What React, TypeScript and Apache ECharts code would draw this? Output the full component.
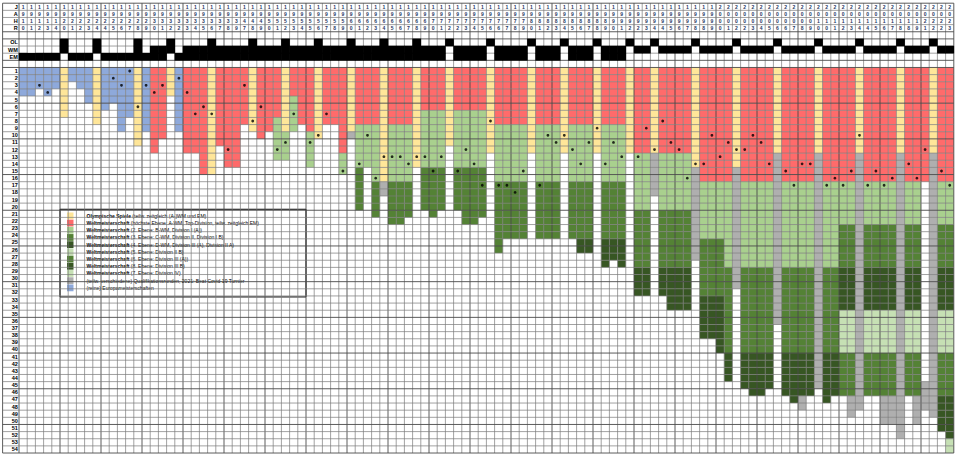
import { useEffect, useRef } from "react";
import * as echarts from "echarts";

// ---------- DATA ----------
const YEARS: number[] = [
  1910, 1911, 1912, 1913, 1914, 1920, 1921, 1922, 1923, 1924,
  1924, 1925, 1926, 1927, 1928, 1929, 1930, 1931, 1932, 1932,
  1933, 1934, 1935, 1936, 1937, 1938, 1939, 1947, 1948, 1949,
  1950, 1951, 1952, 1953, 1954, 1955, 1956, 1957, 1958, 1959,
  1960, 1961, 1962, 1963, 1964, 1965, 1966, 1967, 1968, 1969,
  1970, 1971, 1972, 1972, 1973, 1974, 1975, 1976, 1976, 1977,
  1978, 1979, 1980, 1981, 1982, 1983, 1984, 1985, 1986, 1987,
  1988, 1989, 1990, 1991, 1992, 1992, 1993, 1994, 1994, 1995,
  1996, 1997, 1998, 1998, 1999, 2000, 2001, 2002, 2002, 2003,
  2004, 2005, 2006, 2006, 2007, 2008, 2009, 2010, 2010, 2011,
  2012, 2013, 2014, 2014, 2015, 2016, 2017, 2018, 2018, 2019,
  2021, 2022, 2022, 2023,
];

// O = Olympia, W = Weltmeisterschaft, E = Europameisterschaft
const EVENTS: string[] = [
  "E", "E", "E", "E", "E", "OW", "E", "E", "E", "OW",
  "E", "E", "E", "E", "OWE", "E", "WE", "WE", "OW", "E",
  "WE", "WE", "WE", "OWE", "WE", "WE", "WE", "WE", "OWE", "WE",
  "WE", "WE", "OWE", "WE", "WE", "WE", "OWE", "WE", "WE", "WE",
  "OWE", "WE", "WE", "WE", "OWE", "WE", "WE", "WE", "OWE", "WE",
  "WE", "WE", "O", "WE", "WE", "WE", "WE", "O", "WE", "WE",
  "WE", "WE", "O", "WE", "WE", "WE", "O", "WE", "WE", "WE",
  "O", "WE", "WE", "WE", "O", "W", "W", "O", "W", "W",
  "W", "W", "O", "W", "W", "W", "W", "O", "W", "W",
  "W", "W", "O", "W", "W", "W", "W", "O", "W", "W",
  "W", "W", "O", "W", "W", "W", "W", "O", "W", "W",
  "W", "O", "W", "W",
];

// Placement blocks per tournament, from rank 1 downwards
// Y olympic, R top level, L 2nd, M 3rd/6th, D 4th/7th, P 5th/8th, G qualification, B EM, W empty
const BLOCKS: string[] = [
  "B4", "B4", "B3", "B4", "B3", "Y7", "B2", "B3", "B5", "Y8",
  "B6", "B5", "B9", "B7", "Y11", "B9", "R12", "R10", "Y4", "B9",
  "R12", "R12", "R15", "Y15", "R11", "R14", "R14", "R8", "Y9", "R10",
  "R9", "R7 L6", "Y9 L4", "R4 L5", "R8", "R9 L5", "Y10", "R8", "R8", "R12 L3",
  "Y9 G1", "R8 L6 M6", "R8 L6", "R8 L8 M5", "Y16 G2", "R8 L8 M6", "R8 L8 M6", "R8 L8 M5", "Y14", "R6 L8 M6",
  "R6 L8 M7", "R6 L8 M6", "Y11", "R6 L8 M6", "R6 L8 M8", "R6 L8 M8", "R6 L8 M7", "Y12", "R8 L8 M10", "R8 L8 M8",
  "R8 L8 M8", "R8 L8 M8", "Y12", "R8 L8 M8", "R8 L8 M8", "R8 L8 M8", "Y12", "R8 L8 M8", "R8 L8 M8 D2", "R8 L8 M8 D2",
  "Y12", "R8 L8 M8 D4", "R8 L8 M8 D3", "R8 L8 M8 D4", "Y12", "R12 L8 M8 D4", "R12 L8 M8 D4", "Y12 G6", "R12 L8 M8 D4", "R12 L8 M8 D6",
  "R12 L8 M8 D6", "R12 L8 M8 D6", "Y14 G13", "R16 L8 M8 D6", "R16 L8 M8 D6", "R16 L8 M8 D8", "R16 L12 M12 D4", "Y14 G17", "R16 L12 M12 D5", "R16 L12 M12 D6",
  "R16 L12 M12 D6", "R16 L12 M12 D5", "Y12 G24", "R16 L12 M12 D6", "R16 L12 M12 D7", "R16 L12 M12 D6 G2", "R16 L12 M12 D6", "Y12 G33", "R16 L12 M12 D7", "R16 L12 M12 D6",
  "R16 L6 M6 D6 P6 M6", "R16 L6 M6 D6 P6 M6 G3", "Y12 G36", "R16 L6 M6 D6 P6 M6", "R16 L6 M6 D6 P6 M6", "R16 L6 M6 D6 P6 M6 G4", "R16 L6 M6 D6 P6 M6 G4", "Y12 G40", "R16 L6 M6 D6 P6 M6", "R16 L6 M6 D6 P6 M6 G4",
  "R16 W28 G4", "Y12 G37", "R16 L6 M6 D6 P6 M6 D5", "R16 L6 M6 D6 P6 M6 D6 P2",
];

// Highlighted team's rank per tournament (0 = did not take part)
const MARKS: number[] = [
  0, 0, 3, 4, 0, 0, 0, 0, 0, 0,
  0, 2, 3, 1, 6, 3, 4, 3, 0, 2,
  4, 7, 6, 7, 0, 12, 0, 3, 8, 6,
  0, 12, 11, 7, 0, 11, 10, 7, 0, 15,
  0, 14, 10, 16, 13, 13, 13, 14, 13, 13,
  15, 13, 0, 15, 12, 14, 17, 8, 17, 17,
  18, 15, 0, 17, 10, 11, 10, 12, 14, 11,
  9, 14, 11, 13, 0, 13, 9, 12, 8, 11,
  12, 16, 14, 14, 10, 13, 11, 12, 12, 10,
  11, 14, 0, 15, 17, 14, 14, 0, 17, 16,
  17, 15, 10, 17, 15, 17, 16, 0, 14, 16,
  12, 0, 15, 17,
];

const RANK_COUNT = 54;
const HEADER_LABELS: string[] = ["J", "A", "H", "R", "", "OL", "WM", "EM", ""];

const LEGEND_ITEMS: { key: string; bold: string; rest: string }[] = [
  { key: "Y", bold: "Olympische Spiele", rest: " (teilw. zeitgleich (A-)WM und EM)" },
  { key: "R", bold: "Weltmeisterschaft", rest: " (höchste Ebene: A-WM, Top-Division, teilw. zeitgleich EM)" },
  { key: "L", bold: "Weltmeisterschaft", rest: " (2. Ebene: B-WM, Division I (A))" },
  { key: "M", bold: "Weltmeisterschaft", rest: " (3. Ebene: C-WM, Division II, Division I B)" },
  { key: "D", bold: "Weltmeisterschaft", rest: " (4. Ebene: D-WM, Division III (A), Division II A)" },
  { key: "P", bold: "Weltmeisterschaft", rest: " (5. Ebene: Division II B)" },
  { key: "M", bold: "Weltmeisterschaft", rest: " (6. Ebene: Division III (A))" },
  { key: "D", bold: "Weltmeisterschaft", rest: " (8. Ebene: Division III B)" },
  { key: "P", bold: "Weltmeisterschaft", rest: " (7. Ebene: Division IV)" },
  { key: "G", bold: "", rest: "(teilw. verschiedene) Qualifikationsrunden, 2021: Beat Covid-19 Turnier" },
  { key: "B", bold: "", rest: "(reine) Europameisterschaften" },
];

// ---------- STYLE ----------
const COLORS: Record<string, string> = {
  Y: "#FFE699",
  R: "#FF6B6B",
  B: "#8EA9DB",
  L: "#A9D08E",
  M: "#548235",
  D: "#375623",
  P: "#C6E0B4",
  G: "#AFAFAF",
  K: "#000000",
};

const W = 960;
const H = 456;
const COL_W = 8.2;
const ROW_H = 7.14;
const LABEL_COLS = 2;
const HEADER_ROWS = HEADER_LABELS.length; // 9
const TOTAL_ROWS = HEADER_ROWS + RANK_COUNT; // 63
const GRID_LEFT = 19 - LABEL_COLS * COL_W;
const GRID_TOP = 3.2;
const FONT = "'Liberation Sans', Arial, sans-serif";

function buildCells() {
  const cells: [number, number, string][] = [];
  BLOCKS.forEach((s, c) => {
    let r = 0;
    s.split(" ").forEach((tok) => {
      const k = tok[0];
      const n = parseInt(tok.slice(1), 10);
      for (let i = 0; i < n; i++) {
        if (k !== "W") cells.push([c, HEADER_ROWS + r, k]);
        r++;
      }
    });
  });
  return cells;
}

function buildBlack() {
  const cells: [number, number][] = [];
  EVENTS.forEach((e, c) => {
    if (e.includes("O")) cells.push([c, 5]);
    if (e.includes("W")) cells.push([c, 6]);
    if (e.includes("E")) cells.push([c, 7]);
  });
  return cells;
}

function buildTexts() {
  const t: [number, number, string, number][] = [];
  YEARS.forEach((y, c) => {
    const s = String(y);
    for (let i = 0; i < 4; i++) t.push([c + 0.5, i + 0.5, s[i], 0]);
  });
  HEADER_LABELS.forEach((l, i) => {
    if (l) t.push([-0.15, i + 0.5, l, 1]);
  });
  for (let r = 1; r <= RANK_COUNT; r++) t.push([-0.15, HEADER_ROWS + r - 0.5, String(r), 1]);
  return t;
}

function buildLines() {
  const lines: [number, number][] = [];
  lines.push([0, -LABEL_COLS]);
  for (let c = 0; c <= YEARS.length; c++) lines.push([0, c]);
  for (let r = 0; r <= TOTAL_ROWS; r++) lines.push([1, r]);
  return lines;
}

export default function App() {
  const ref = useRef<HTMLDivElement>(null);
  useEffect(() => {
    if (!ref.current) return;
    const chart = echarts.init(ref.current, null, { renderer: "svg", width: W, height: H });
    const nCols = YEARS.length;
    const cells = buildCells();
    const black = buildBlack();
    const texts = buildTexts();
    const lines = buildLines();
    const dots = MARKS.map((m, c) => (m > 0 ? [c + 0.5, HEADER_ROWS + m - 0.5] : null)).filter(Boolean);

    const gridW = (nCols + LABEL_COLS) * COL_W;
    const gridH = TOTAL_ROWS * ROW_H;

    const boxX = 19 + 5 * COL_W;
    const boxY = GRID_TOP + (HEADER_ROWS + 20) * ROW_H - 1;
    const boxW = 30 * COL_W;
    const boxH = 12 * ROW_H + 2;
    const legendChildren: any[] = [
      {
        type: "rect",
        shape: { x: boxX, y: boxY, width: boxW, height: boxH },
        style: { fill: "#fff", stroke: "#000", lineWidth: 1 },
      },
    ];
    LEGEND_ITEMS.forEach((it, i) => {
      const yy = boxY + 6.5 + i * 7.2;
      legendChildren.push({
        type: "rect",
        shape: { x: boxX + 7, y: yy - 3.3, width: 6.5, height: 6.8 },
        style: { fill: COLORS[it.key] },
      });
      legendChildren.push({
        type: "text",
        x: boxX + 26.5,
        y: yy,
        style: {
          text: (it.bold ? "{b|" + it.bold + "}" : "") + "{n|" + it.rest + "}",
          rich: {
            b: { fontSize: 5, fontWeight: "bold", fontFamily: FONT, fill: "#000" },
            n: { fontSize: 5, fontFamily: FONT, fill: "#000" },
          },
          verticalAlign: "middle",
          textVerticalAlign: "middle",
        },
      });
    });

    chart.setOption({
      animation: false,
      backgroundColor: "#fff",
      grid: { left: GRID_LEFT, top: GRID_TOP, width: gridW, height: gridH, containLabel: false },
      xAxis: { type: "value", min: -LABEL_COLS, max: nCols, show: false },
      yAxis: { type: "value", min: 0, max: TOTAL_ROWS, inverse: true, show: false },
      series: [
        {
          type: "custom",
          name: "cells",
          z: 1,
          silent: true,
          data: cells,
          encode: { x: 0, y: 1 },
          renderItem: (_p: any, api: any) => {
            const c = api.value(0) as number;
            const r = api.value(1) as number;
            const k = cells[_p.dataIndex][2];
            const a = api.coord([c, r]);
            const b = api.coord([c + 1, r + 1]);
            return {
              type: "rect",
              shape: { x: a[0], y: a[1], width: b[0] - a[0], height: b[1] - a[1] },
              style: { fill: COLORS[k] },
            };
          },
        },
        {
          type: "custom",
          name: "lines",
          z: 2,
          silent: true,
          data: lines,
          encode: { x: 1 },
          renderItem: (_p: any, api: any) => {
            const kind = api.value(0) as number;
            const i = api.value(1) as number;
            let a, b, thick;
            if (kind === 0) {
              a = api.coord([i, 0]);
              b = api.coord([i, TOTAL_ROWS]);
              thick = i === -LABEL_COLS || i % 5 === 0 || i === nCols;
            } else {
              a = api.coord([-LABEL_COLS, i]);
              b = api.coord([nCols, i]);
              const rr = i - HEADER_ROWS;
              thick = i === 0 || i === 4 || i === 5 || i === 8 || (rr >= 0 && rr % 5 === 0) || i === TOTAL_ROWS;
            }
            return {
              type: "line",
              shape: { x1: a[0], y1: a[1], x2: b[0], y2: b[1] },
              style: { stroke: thick ? "#4a4a4a" : "#7a7a7a", lineWidth: thick ? 0.9 : 0.7 },
            };
          },
        },
        {
          type: "custom",
          name: "events",
          z: 3,
          silent: true,
          data: black,
          encode: { x: 0, y: 1 },
          renderItem: (_p: any, api: any) => {
            const c = api.value(0) as number;
            const r = api.value(1) as number;
            const a = api.coord([c, r]);
            const b = api.coord([c + 1, r + 1]);
            return {
              type: "rect",
              shape: { x: a[0] - 0.3, y: a[1] - 0.3, width: b[0] - a[0] + 0.6, height: b[1] - a[1] + 0.6 },
              style: { fill: COLORS.K },
            };
          },
        },
        {
          type: "scatter",
          name: "team",
          z: 4,
          silent: true,
          symbol: "circle",
          symbolSize: 2.8,
          itemStyle: { color: "#000" },
          data: dots,
        },
        {
          type: "custom",
          name: "texts",
          z: 5,
          silent: true,
          data: texts,
          encode: { x: 0, y: 1 },
          renderItem: (_p: any, api: any) => {
            const t = texts[_p.dataIndex];
            const p = api.coord([t[0], t[1]]);
            const isLabel = t[3] === 1;
            return {
              type: "text",
              x: p[0],
              y: p[1],
              style: {
                text: t[2],
                fontSize: isLabel ? 5.5 : 5,
                fontWeight: "bold",
                fontFamily: FONT,
                fill: isLabel ? "#000" : "#1F3864",
                align: isLabel ? "right" : "center",
                verticalAlign: "middle",
                textAlign: isLabel ? "right" : "center",
                textVerticalAlign: "middle",
              },
            };
          },
        },
      ],
      graphic: [{ type: "group", z: 100, children: legendChildren }],
    });
    return () => chart.dispose();
  }, []);
  return <div ref={ref} style={{ position: "fixed", left: 0, top: 0, width: W, height: H, background: "#fff" }} />;
}
